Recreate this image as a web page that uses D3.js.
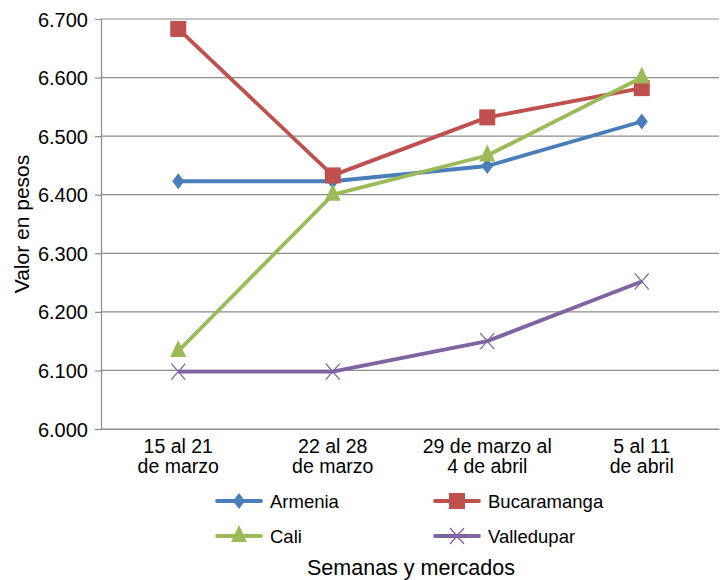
<!DOCTYPE html>
<html>
<head>
<meta charset="utf-8">
<script src="https://cdn.jsdelivr.net/npm/d3@7"></script>
<style>
  body { margin: 0; background: #fff; }
  svg { font-family: "Liberation Sans", Arial, sans-serif; }
</style>
</head>
<body>
<svg id="chart" width="722" height="580"></svg>
<script>
// chart data
const weeks = [["15 al 21", "de marzo"], ["22 al 28", "de marzo"], ["29 de marzo al", "4 de abril"], ["5 al 11", "de abril"]];
const armenia = [6423, 6423, 6449, 6525];
const bucaramanga = [6683, 6433, 6532, 6582];
const cali = [6133, 6400, 6467, 6600];
const valledupar = [6098, 6098, 6150, 6252];
const yTicks = [6000, 6100, 6200, 6300, 6400, 6500, 6600, 6700];

const series = [
    {name: "Armenia", values: armenia, color: "#4a7ebb", marker: "diamond"},
    {name: "Bucaramanga", values: bucaramanga, color: "#c0504d", marker: "square"},
    {name: "Cali", values: cali, color: "#9bbb59", marker: "triangle"},
    {name: "Valledupar", values: valledupar, color: "#8064a2", marker: "cross"}
];

const svg = d3.select("#chart");
const plotLeft = 101, plotRight = 719, plotTop = 19, plotBottom = 429;

const scaleX = d3.scaleBand()
    .domain(d3.range(weeks.length))
    .range([plotLeft, plotRight]);
const scaleY = d3.scaleLinear()
    .domain([6000, 6700])
    .range([plotBottom, plotTop]);

const fmt = v => d3.format(".3f")(v / 1000);

//gridlines
svg.append("g").selectAll("line").data(yTicks).enter()
    .append("line")
    .attr("x1", plotLeft).attr("x2", plotRight)
    .attr("y1", d => scaleY(d)).attr("y2", d => scaleY(d))
    .attr("stroke", "#8c8c8c")
    .attr("stroke-width", 1.2);

//y axis
const yAxis = svg.append("g")
    .attr("transform", `translate(${plotLeft},0)`)
    .call(d3.axisLeft(scaleY).tickValues(yTicks).tickFormat(fmt).tickSize(6).tickPadding(7));
yAxis.select(".domain").attr("stroke", "#8c8c8c").attr("stroke-width", 1.2);
yAxis.selectAll(".tick line").attr("stroke", "#8c8c8c").attr("stroke-width", 1.2);
yAxis.selectAll("text").style("font-size", "20px").attr("fill", "#000").attr("dy", "0.35em");

//x axis
const xAxis = svg.append("g")
    .attr("transform", `translate(0,${plotBottom})`)
    .call(d3.axisBottom(scaleX).tickSize(0).tickFormat(""));
xAxis.select(".domain").attr("stroke", "#8c8c8c").attr("stroke-width", 1.2);

svg.append("g").selectAll("text").data(weeks).enter()
    .append("text")
    .attr("x", (d, i) => scaleX(i) + scaleX.bandwidth() / 2)
    .attr("y", 453)
    .attr("text-anchor", "middle")
    .style("font-size", "19.5px")
    .each(function(d) {
        d3.select(this).selectAll("tspan").data(d).enter()
            .append("tspan")
            .attr("x", d3.select(this).attr("x"))
            .attr("dy", (t, j) => j === 0 ? 0 : 20)
            .text(t => t);
    });

//axis titles
svg.append("text")
    .attr("transform", "translate(29,224) rotate(-90)")
    .attr("text-anchor", "middle")
    .style("font-size", "21px")
    .text("Valor en pesos");

svg.append("text")
    .attr("x", 411).attr("y", 575)
    .attr("text-anchor", "middle")
    .style("font-size", "21.5px")
    .text("Semanas y mercados");

function drawMarker(g, type, color) {
    if (type === "diamond") {
        g.append("path").attr("d", "M0,-8L6,0L0,8L-6,0Z").attr("fill", color);
    } else if (type === "square") {
        g.append("rect").attr("x", -8).attr("y", -8).attr("width", 16).attr("height", 16).attr("fill", color);
    } else if (type === "triangle") {
        g.append("path").attr("d", "M0,-11L8,6L-8,6Z").attr("fill", color);
    } else {
        g.append("path").attr("d", "M-7,-8L7,8M-7,8L7,-8").attr("stroke", color).attr("stroke-width", 1.3);
    }
}

const line = d3.line()
    .x((d, i) => scaleX(i) + scaleX.bandwidth() / 2)
    .y(d => scaleY(d));

series.forEach(s => {
    svg.append("path")
        .datum(s.values)
        .attr("d", line)
        .attr("fill", "none")
        .attr("stroke", s.color)
        .attr("stroke-width", 3.8)
        .attr("stroke-linejoin", "round");
    s.values.forEach((v, i) => {
        const g = svg.append("g")
            .attr("transform", `translate(${scaleX(i) + scaleX.bandwidth() / 2},${scaleY(v)})`);
        drawMarker(g, s.marker, s.color);
    });
});

//legend
const legendPos = [[217, 501], [435, 501], [217, 536], [435, 536]];
series.forEach((s, i) => {
    const [lx, ly] = legendPos[i];
    svg.append("line")
        .attr("x1", lx).attr("x2", lx + 44)
        .attr("y1", ly).attr("y2", ly)
        .attr("stroke", s.color)
        .attr("stroke-width", 3.8)
        .attr("stroke-linecap", "round");
    const g = svg.append("g").attr("transform", `translate(${lx + 22},${ly})`);
    drawMarker(g, s.marker, s.color);
    svg.append("text")
        .attr("x", lx + 53).attr("y", ly + 7)
        .style("font-size", "18.5px")
        .text(s.name);
});
</script>
</body>
</html>
